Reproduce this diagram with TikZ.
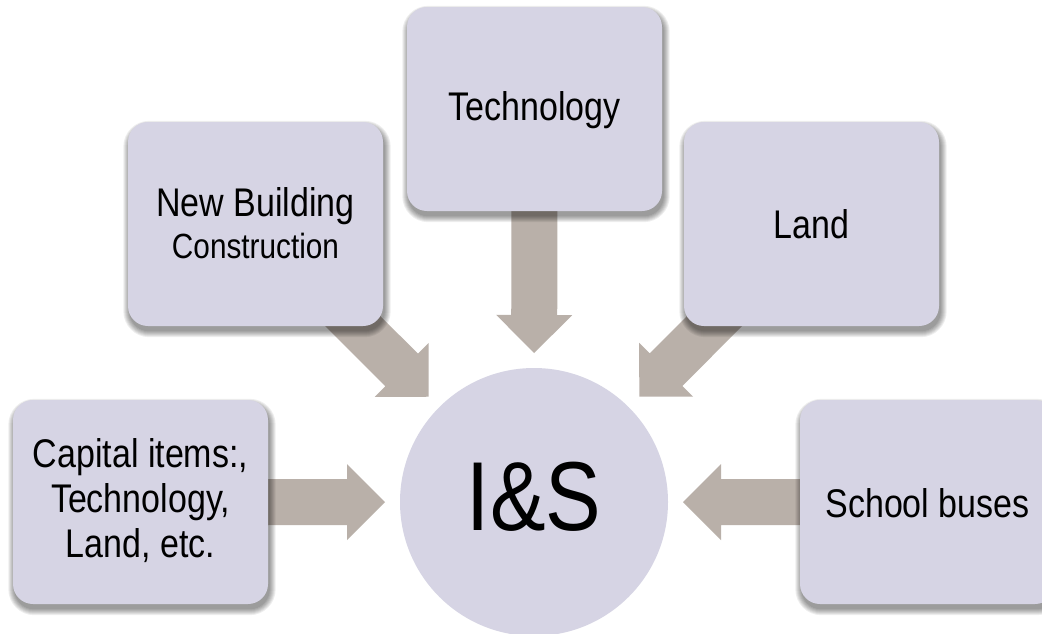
\documentclass[tikz,border=0pt]{standalone}
\usepackage{fontspec}
\setmainfont{Liberation Sans}[FakeStretch=0.85]
\usetikzlibrary{calc}
\definecolor{boxc}{RGB}{214,212,228}
\definecolor{arrc}{RGB}{185,176,169}
\pgfdeclarelayer{background}
\pgfdeclarelayer{shadowlayer}
\pgfsetlayers{background,shadowlayer,main}
\newcommand\blkarrow[2]{%
  \coordinate (hb) at ($(#2)!38pt!(#1)$);
  \fill[arrc] ($(#1)!23pt!90:(#2)$) -- ($(hb)!23pt!90:(#2)$) -- ($(hb)!38pt!90:(#2)$) -- (#2)
    -- ($(hb)!38pt!-90:(#2)$) -- ($(hb)!23pt!-90:(#2)$) -- ($(#1)!23pt!-90:(#2)$) -- cycle;}
\newcommand\boxshadow[1]{%
  \foreach \r in {0,1,...,6}{%
    \pgfmathsetmacro\rc{20+\r}%
    \fill[black, opacity=0.065, rounded corners=\rc pt]
      ($(#1.north west)+(1.5-\r,5-\r)$) rectangle ($(#1.south east)+(1.5+\r,5+\r)$);}}
\begin{document}
\begin{tikzpicture}[x=1pt,y=-1pt,
  box/.style={rectangle, rounded corners=20pt, fill=boxc, minimum width=255pt, minimum height=204pt,
    inner sep=0pt},
  lbl/.style={align=center, font=\fontsize{40}{45}\selectfont, yshift=0pt},
  hub/.style={circle, fill=boxc, minimum size=268pt, inner sep=0pt}]
\path[use as bounding box] (0,0) rectangle (1042,633);
\begin{pgfonlayer}{background}
\fill[white] (0,0) rectangle (1042,633);
\end{pgfonlayer}
\node[hub, label={[font=\fontsize{98}{102}\selectfont, yshift=5pt]center:I\&S}] (is) at (534,502) {};
\node[box, label={[lbl, yshift=-1pt]center:Technology}] (tech) at (534.5,109) {};
\node[box, label={[lbl, yshift=1pt]center:{New Building\\[-3pt]{\fontsize{35}{42}\selectfont Construction}}}] (nb) at (255.5,224) {};
\node[box, label={[lbl]center:Land}] (land) at (811.5,224) {};
\node[box, label={[lbl, yshift=1pt]center:{Capital items:,\\Technology,\\Land, etc.}}] (cap) at (140.5,502) {};
\node[box, label={[lbl, yshift=-1pt]center:School buses}] (bus) at (927.5,502) {};
\begin{pgfonlayer}{shadowlayer}
\boxshadow{tech}
\boxshadow{nb}
\boxshadow{land}
\boxshadow{cap}
\boxshadow{bus}
\end{pgfonlayer}
\coordinate (ttech) at ($(is.center)!149pt!(tech.center)$);
\coordinate (tnb) at ($(is.center)!149pt!(nb.center)$);
\coordinate (tland) at ($(is.center)!149pt!(land.center)$);
\coordinate (tcap) at ($(is.center)!149pt!(cap.center)$);
\coordinate (tbus) at ($(is.center)!149pt!(bus.center)$);
\begin{pgfonlayer}{background}
\blkarrow{tech.center}{ttech}
\blkarrow{nb.center}{tnb}
\blkarrow{land.center}{tland}
\blkarrow{cap.center}{tcap}
\blkarrow{bus.center}{tbus}
\end{pgfonlayer}
\end{tikzpicture}
\end{document}
